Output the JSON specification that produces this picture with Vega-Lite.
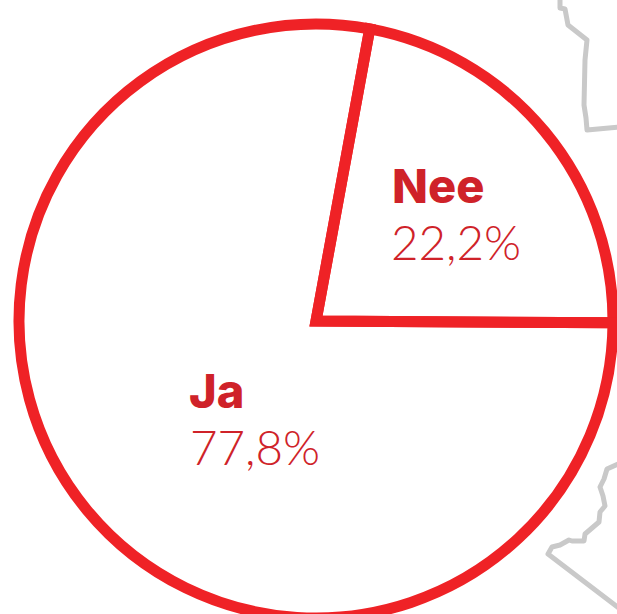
{"$schema":"https://vega.github.io/schema/vega-lite/v6.json","width":617,"height":614,"padding":0,"autosize":{"type":"none"},"background":"white","view":{"stroke":null},
"datasets":{"map":[
{"g":"a","i":0,"x":560,"y":-2},{"g":"a","i":1,"x":560,"y":8},{"g":"a","i":2,"x":565,"y":9},{"g":"a","i":3,"x":568,"y":25},{"g":"a","i":4,"x":587,"y":40},{"g":"a","i":5,"x":585,"y":60},{"g":"a","i":6,"x":584,"y":105},{"g":"a","i":7,"x":586,"y":118},{"g":"a","i":8,"x":587,"y":130},{"g":"a","i":9,"x":620,"y":127},
{"g":"b","i":0,"x":620,"y":463},{"g":"b","i":1,"x":607,"y":469},{"g":"b","i":2,"x":604,"y":479},{"g":"b","i":3,"x":600,"y":487},{"g":"b","i":4,"x":603,"y":496},{"g":"b","i":5,"x":605,"y":506},{"g":"b","i":6,"x":600,"y":512},{"g":"b","i":7,"x":599,"y":522},{"g":"b","i":8,"x":585,"y":534},{"g":"b","i":9,"x":584,"y":541},{"g":"b","i":10,"x":572,"y":541},{"g":"b","i":11,"x":569,"y":540},{"g":"b","i":12,"x":560,"y":545},{"g":"b","i":13,"x":552,"y":547},{"g":"b","i":14,"x":548,"y":554},{"g":"b","i":15,"x":620,"y":609}],
"pie":[{"antwoord":"Nee","pct":22.2,"rang":1,"x":316,"y":321},{"antwoord":"Ja","pct":77.8,"rang":2,"x":316,"y":321}],
"labels":[{"t":"Nee","x":392,"y":203,"s":"b"},{"t":"22,2%","x":391,"y":260,"s":"l"},{"t":"Ja","x":189,"y":408,"s":"b"},{"t":"77,8%","x":190,"y":465,"s":"l"}]},
"layer":[
{"data":{"name":"map"},"mark":{"type":"line","stroke":"#c9c9c9","strokeWidth":5,"strokeJoin":"round","clip":false},"encoding":{"x":{"field":"x","type":"quantitative","scale":{"domain":[0,617],"nice":false,"zero":false},"axis":null},"y":{"field":"y","type":"quantitative","scale":{"domain":[614,0],"nice":false,"zero":false},"axis":null},"detail":{"field":"g"},"order":{"field":"i"}}},
{"data":{"name":"pie"},"mark":{"type":"arc","outerRadius":297,"innerRadius":0,"fill":"white","fillOpacity":0,"stroke":"#ef2226","strokeWidth":11,"strokeJoin":"miter"},"encoding":{"x":{"field":"x","type":"quantitative","axis":null},"y":{"field":"y","type":"quantitative","axis":null},"theta":{"field":"pct","type":"quantitative","stack":true,"scale":{"domain":[0,100],"range":[0.182,6.465]}},"order":{"field":"rang"}}},
{"data":{"name":"labels"},"transform":[{"filter":"datum.s=='b'"}],"mark":{"type":"text","align":"left","baseline":"alphabetic","font":"Inter","fontWeight":800,"fontSize":47,"color":"#cf2229"},"encoding":{"x":{"field":"x","type":"quantitative","axis":null},"y":{"field":"y","type":"quantitative","axis":null},"text":{"field":"t"}}},
{"data":{"name":"labels"},"transform":[{"filter":"datum.s=='l'"}],"mark":{"type":"text","align":"left","baseline":"alphabetic","font":"Lato","fontWeight":300,"fontSize":47.5,"color":"#cf2229"},"encoding":{"x":{"field":"x","type":"quantitative","axis":null},"y":{"field":"y","type":"quantitative","axis":null},"text":{"field":"t"}}}
]}
